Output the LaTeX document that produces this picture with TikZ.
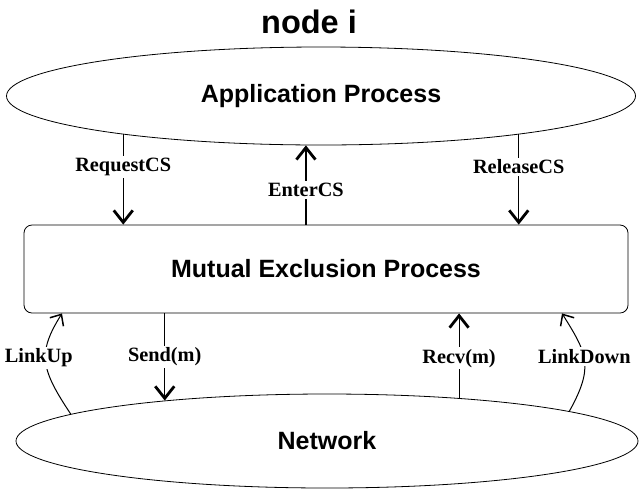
\documentclass[tikz,border=0pt]{standalone}
\usepackage{fontspec}
\setmainfont{Liberation Serif}
\setsansfont{Liberation Sans}
\usetikzlibrary{shapes,arrows.meta}
\tikzstyle{title} = [inner sep=0pt, font=\sffamily\bfseries\fontsize{32.5}{36}\selectfont]
\tikzstyle{proc} = [draw, ellipse, line width=0.8pt, inner sep=0pt, font=\sffamily\bfseries\fontsize{25}{30}\selectfont]
\tikzstyle{mutexbox} = [draw, rectangle, rounded corners=8pt, line width=0.8pt, inner sep=0pt, font=\sffamily\bfseries\fontsize{25}{30}\selectfont]
\tikzstyle{line} = [draw, line width=1.2pt, -{Straight Barb[length=12pt,width=19pt,line width=2.8pt]}]
\tikzstyle{linecurve} = [draw, line width=1pt, -{Straight Barb[length=9pt,width=16pt,line width=1.5pt]}]
\tikzstyle{lbl} = [fill=white, inner sep=2pt, font=\bfseries\fontsize{20.3}{23}\selectfont]

\begin{document}
\begin{tikzpicture}[x=1pt, y=-1pt]
    \useasboundingbox (0,0) rectangle (639,491);
    \node[title] (nodei) at (309,22) {node i};
    \node[proc, minimum width=629pt, minimum height=98pt] (app) at (321,96) {Application Process};
    \node[mutexbox, minimum width=604pt, minimum height=88pt] (mutex) at (326,269) {Mutual Exclusion Process};
    \node[proc, minimum width=622pt, minimum height=94pt] (net) at (327,441) {Network};
    % application <-> mutual exclusion
    \path [line] (app.191) -- (app.191 |- mutex.north) node[lbl, pos=0.36] {RequestCS};
    \path [line] (app.253 |- mutex.north) -- (app.253) node[lbl, pos=0.44] {EnterCS};
    \path [line] (app.349) -- (app.349 |- mutex.north) node[lbl, pos=0.36] {ReleaseCS};
    % mutual exclusion <-> network
    \path [line] (net.166 |- mutex.south) -- (net.166) node[lbl, midway] {Send(m)};
    \path [line] (net.18) -- (net.18 |- mutex.south) node[lbl, pos=0.47] {Recv(m)};
    \path [linecurve] (net.174.5) .. controls +(-30,-45) and +(-25,40) .. ([xshift=-264pt]mutex.south) node[lbl, pos=0.5, xshift=-7pt, yshift=4pt] {LinkUp};
    \path [linecurve] (net.7.4) .. controls +(25,-45) and +(25,40) .. ([xshift=236pt]mutex.south) node[lbl, pos=0.5, yshift=4pt] {LinkDown};
\end{tikzpicture}
\end{document}
